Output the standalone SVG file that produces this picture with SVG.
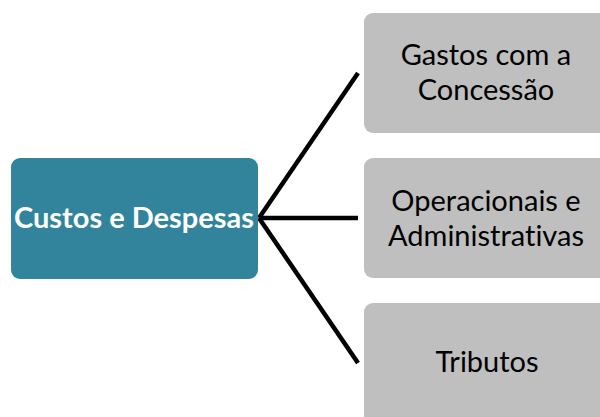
<svg xmlns="http://www.w3.org/2000/svg" width="600" height="417" viewBox="0 0 600 417">
<style>
.root{fill:#31849B}
.leaf{fill:#BFBFBF}
.t{font-family:Lato,"Liberation Sans",sans-serif;font-size:29px;fill:#000;text-anchor:middle;font-variant-ligatures:none}
.tb{font-family:Lato,"Liberation Sans",sans-serif;font-size:29px;font-weight:bold;fill:#fff;text-anchor:middle;font-variant-ligatures:none}
.c{stroke:#000;stroke-width:4.5;fill:none}
</style>
<rect width="600" height="417" fill="#fff"/>
<g id="connectors">
<line class="c" x1="259" y1="218" x2="358" y2="73"/>
<line class="c" x1="259" y1="218" x2="358" y2="218"/>
<line class="c" x1="259" y1="218" x2="358" y2="363"/>
</g>
<g id="node-root">
<rect class="root" x="11" y="158" width="247" height="121" rx="9"/>
<text class="tb" x="134" y="228">Custos e Despesas</text>
</g>
<g id="node-gastos">
<rect class="leaf" x="364" y="13" width="250" height="120" rx="9"/>
<text class="t" x="486" y="65">Gastos com a</text>
<text class="t" x="486" y="100">Concessão</text>
</g>
<g id="node-operacionais">
<rect class="leaf" x="364" y="158" width="250" height="120" rx="9"/>
<text class="t" x="486" y="211">Operacionais e</text>
<text class="t" x="486" y="246">Administrativas</text>
</g>
<g id="node-tributos">
<rect class="leaf" x="364" y="303" width="250" height="130" rx="9"/>
<text class="t" x="487" y="372">Tributos</text>
</g>
</svg>
